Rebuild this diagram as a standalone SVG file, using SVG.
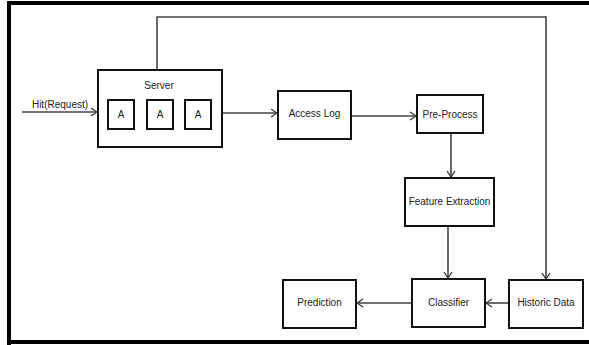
<svg xmlns="http://www.w3.org/2000/svg" width="589" height="345" viewBox="0 0 589 345">
<style>
.box{fill:#fff;stroke:#111;stroke-width:2}
.t{font-family:"Liberation Sans",Arial,sans-serif;font-size:10px;fill:#222;text-anchor:middle}
.c{fill:none;stroke:#444;stroke-width:1.6}
</style>
<defs>
<marker id="ah" markerWidth="8" markerHeight="10" refX="7" refY="5" orient="auto" markerUnits="userSpaceOnUse">
<path d="M1,1 L7,5 L1,9" fill="none" stroke="#333" stroke-width="1.3"/>
</marker>
</defs>
<rect width="589" height="345" fill="#fff"/>
<g id="frame">
<path d="M9,345 V3 H589" fill="none" stroke="#000" stroke-width="4"/>
<path d="M7,342 H589" fill="none" stroke="#000" stroke-width="4"/>
</g>
<g id="connectors">
<line class="c" x1="22" y1="112" x2="97" y2="112" marker-end="url(#ah)"/>
<line class="c" x1="223" y1="113" x2="277" y2="113" marker-end="url(#ah)"/>
<line class="c" x1="352" y1="116" x2="416" y2="116" marker-end="url(#ah)"/>
<line class="c" x1="451" y1="133" x2="451" y2="177" marker-end="url(#ah)"/>
<line class="c" x1="448" y1="227" x2="448" y2="278" marker-end="url(#ah)"/>
<line class="c" x1="508" y1="303" x2="486" y2="303" marker-end="url(#ah)"/>
<line class="c" x1="411" y1="303" x2="357" y2="303" marker-end="url(#ah)"/>
<path class="c" d="M157,70 V17 H546 V279" marker-end="url(#ah)"/>
<text class="t" x="60" y="108">Hit(Request)</text>
</g>
<g id="server">
<rect class="box" x="98" y="70" width="124" height="77"/>
<text class="t" x="159" y="89">Server</text>
<rect class="box" x="108" y="100" width="26" height="29"/>
<text class="t" x="121" y="118">A</text>
<rect class="box" x="147" y="100" width="26" height="29"/>
<text class="t" x="160" y="118">A</text>
<rect class="box" x="185" y="100" width="26" height="29"/>
<text class="t" x="198" y="118">A</text>
</g>
<g id="access-log">
<rect class="box" x="278" y="91" width="73" height="48"/>
<text class="t" x="314.5" y="117">Access Log</text>
</g>
<g id="pre-process">
<rect class="box" x="417" y="95" width="66" height="38"/>
<text class="t" x="450" y="118">Pre-Process</text>
</g>
<g id="feature-extraction">
<rect class="box" x="405" y="178" width="89" height="48"/>
<text class="t" x="449.5" y="205">Feature Extraction</text>
</g>
<g id="classifier">
<rect class="box" x="412" y="279" width="73" height="48"/>
<text class="t" x="448.5" y="306">Classifier</text>
</g>
<g id="historic-data">
<rect class="box" x="509" y="280" width="74" height="48"/>
<text class="t" x="546" y="306">Historic Data</text>
</g>
<g id="prediction">
<rect class="box" x="283" y="280" width="73" height="48"/>
<text class="t" x="319.5" y="306">Prediction</text>
</g>
</svg>
